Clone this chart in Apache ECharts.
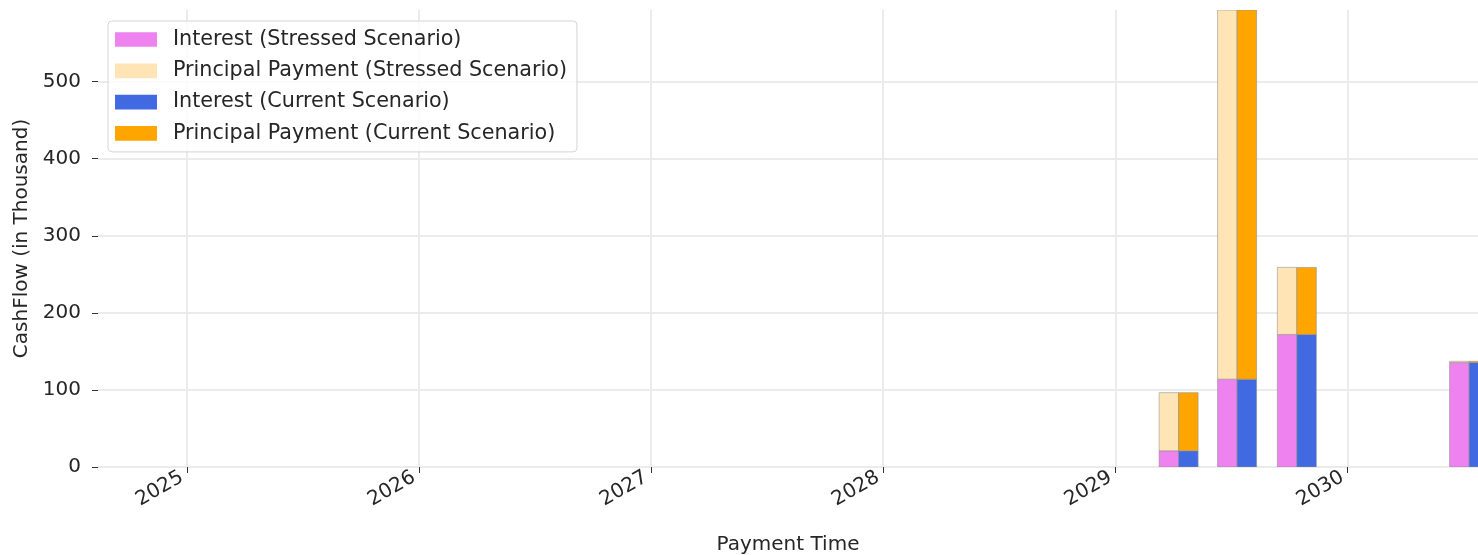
<!DOCTYPE html>
<html>
<head>
<meta charset="utf-8">
<script src="https://cdn.jsdelivr.net/npm/echarts@6/dist/echarts.min.js"></script>
<style>
html,body{margin:0;padding:0;background:#fff;}
#chart{width:1478px;height:555px;}
</style>
</head>
<body>
<div id="chart"></div>
<script>
// Data
const paymentDates = ['2029-04-10', '2029-07-11', '2029-10-13', '2030-07-11'];
const interestStressed = [21, 114, 172, 135.5];
const principalStressed = [75.5, 479, 87, 1.7];
const interestCurrent = [21, 114, 172, 135.5];
const principalCurrent = [75.5, 479, 87, 1.7];
const yTicks = [0, 100, 200, 300, 400, 500];
const xRange = ['2024-08-14', '2030-07-25'];

const FONT = 'DejaVu Sans';
const TXT = '#262626';
const BAR_W = 19.5;

function toMs(s) { return new Date(s + 'T00:00:00').getTime(); }
// rows: [date, bottom, top]
function segRows(base, vals) {
  return paymentDates.map((d, i) => [toMs(d), base ? base[i] : 0, (base ? base[i] : 0) + vals[i]]);
}

function makeSeries(name, color, side, rows) {
  return {
    name: name,
    type: 'custom',
    clip: true,
    itemStyle: { color: color },
    encode: { x: 0, y: [1, 2] },
    data: rows,
    renderItem: function (params, api) {
      const x = api.value(0);
      const pLo = api.coord([x, api.value(1)]);
      const pHi = api.coord([x, api.value(2)]);
      const left = side === 'left' ? pLo[0] - BAR_W : pLo[0];
      return {
        type: 'rect',
        shape: { x: left, y: pHi[1], width: BAR_W, height: pLo[1] - pHi[1] },
        style: { fill: color, stroke: 'rgba(140,140,140,0.55)', lineWidth: 1 }
      };
    }
  };
}

const chart = echarts.init(document.getElementById('chart'));
chart.setOption({
  animation: false,
  textStyle: { fontFamily: FONT },
  grid: { left: 98, right: 0, top: 10, bottom: 88, containLabel: false, outerBoundsMode: 'none' },
  legend: {
    orient: 'vertical',
    left: 108, top: 21,
    padding: [8, 10, 8, 7],
    icon: 'rect',
    itemWidth: 42, itemHeight: 14.7, itemGap: 10.3,
    backgroundColor: 'rgba(255,255,255,0.8)',
    borderColor: '#d4d4d4', borderWidth: 1, borderRadius: 4,
    textStyle: { fontFamily: FONT, fontSize: 20.7, color: TXT, padding: [0, 0, 0, 11] },
    itemStyle: { borderWidth: 0 },
    data: ['Interest (Stressed Scenario)', 'Principal Payment (Stressed Scenario)', 'Interest (Current Scenario)', 'Principal Payment (Current Scenario)']
  },
  xAxis: {
    type: 'time',
    min: toMs(xRange[0]),
    max: toMs(xRange[1]),
    splitNumber: 6,
    name: 'Payment Time',
    nameLocation: 'middle',
    nameGap: 68,
    nameTextStyle: { fontFamily: FONT, fontSize: 20, color: TXT },
    axisLine: { show: false },
    axisTick: { show: true, length: 6, lineStyle: { color: '#333', width: 1 } },
    axisLabel: {
      rotate: 30, fontSize: 20, color: TXT, fontFamily: FONT, margin: 6,
      padding: [0, 6, 0, 0],
      showMinLabel: false, showMaxLabel: false,
      formatter: function (v) { return String(new Date(v).getFullYear()); }
    },
    splitLine: { show: true, showMinLine: false, showMaxLine: false, lineStyle: { color: '#ebebeb', width: 2 } }
  },
  yAxis: {
    type: 'value',
    min: 0, max: 593, interval: 100,
    name: 'CashFlow (in Thousand)',
    nameLocation: 'middle',
    nameRotate: 90,
    nameGap: 60,
    nameTextStyle: { fontFamily: FONT, fontSize: 20, color: TXT },
    axisLine: { show: false },
    axisTick: { show: true, length: 6, lineStyle: { color: '#333', width: 1 } },
    axisLabel: {
      fontSize: 20, color: TXT, fontFamily: FONT, margin: 17,
      showMaxLabel: false,
      formatter: function (v) { return yTicks.indexOf(v) >= 0 ? String(v) : ''; }
    },
    splitLine: { show: true, showMaxLine: false, lineStyle: { color: '#ebebeb', width: 2 } }
  },
  series: [
    makeSeries('Interest (Stressed Scenario)', '#ee82ee', 'left', segRows(null, interestStressed)),
    makeSeries('Principal Payment (Stressed Scenario)', '#ffe4b5', 'left', segRows(interestStressed, principalStressed)),
    makeSeries('Interest (Current Scenario)', '#4169e1', 'right', segRows(null, interestCurrent)),
    makeSeries('Principal Payment (Current Scenario)', '#ffa500', 'right', segRows(interestCurrent, principalCurrent))
  ]
});
</script>
</body>
</html>
